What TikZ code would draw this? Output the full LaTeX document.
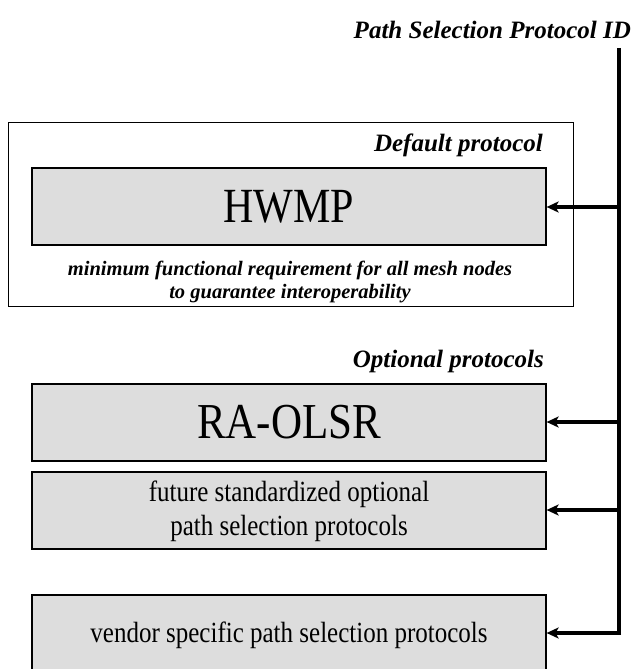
\documentclass[tikz,border=0pt]{standalone}
\usepackage{fontspec}
\setmainfont{Liberation Serif}
\usetikzlibrary{arrows.meta}
\newcommand{\talltext}[1]{\scalebox{1}[1.17]{#1}}
\begin{document}
\begin{tikzpicture}[x=1pt,y=-1pt,
  graybox/.style={draw=black,fill=gray!27,line width=1.2pt,minimum width=514pt,inner sep=0pt},
  outerbox/.style={draw=black,line width=1pt},
  bihead/.style={font=\bfseries\itshape\fontsize{25}{28}\selectfont,anchor=east,inner sep=0pt},
  conn/.style={line width=3.6pt,-{Stealth[length=12pt,width=11pt,inset=3pt]}},
  bus/.style={line width=3.6pt}]
\useasboundingbox (0,0) rectangle (631,669);
\node[bihead] (title) at (631,30) {Path Selection Protocol ID};
\draw[outerbox] (8,122) rectangle (573,306);
\node[bihead] (def) at (543,145) {Default protocol};
\node[graybox,minimum height=77pt,font=\fontsize{42}{46}\selectfont] (hwmp) at (289,206.5) {\talltext{HWMP}};
\node[font=\bfseries\itshape\fontsize{20.5}{23}\selectfont,align=center] (minreq) at (290,282) {minimum functional requirement for all mesh nodes\\to guarantee interoperability};
\node[bihead] (opt) at (544,361) {Optional protocols};
\node[graybox,minimum height=77pt,font=\fontsize{43}{46}\selectfont] (ra) at (289,422.5) {\talltext{RA-OLSR}};
\node[graybox,minimum height=77pt,font=\fontsize{25}{26}\selectfont] (fut) at (289,510.5) {};
\node[font=\fontsize{25}{26}\selectfont] (futtext) at (289,512) {\talltext{\begin{tabular}{@{}c@{}}future standardized optional\\[3pt]path selection protocols\end{tabular}}};
\node[graybox,minimum height=80pt,font=\fontsize{25}{28}\selectfont] (ven) at (289,635) {\talltext{vendor specific path selection protocols}};
\coordinate (top) at (619,48);
\coordinate (bot) at (619,634.5);
\draw[bus] (top) -- (bot);
\draw[conn] (619,207) -- (hwmp.east|-619,207);
\draw[conn] (619,422) -- (ra.east|-619,422);
\draw[conn] (619,510) -- (fut.east|-619,510);
\draw[conn] (621,633) -- (ven.east|-619,633);
\end{tikzpicture}
\end{document}
